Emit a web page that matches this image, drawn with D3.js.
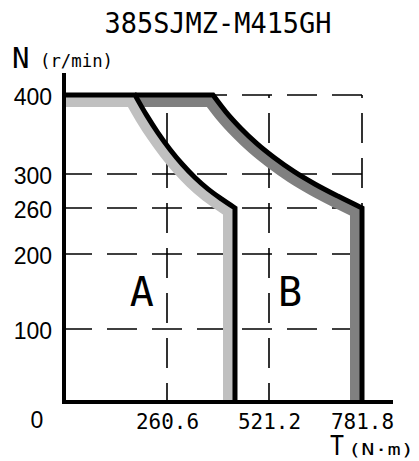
<!DOCTYPE html>
<html>
<head>
<meta charset="utf-8">
<script src="https://cdn.jsdelivr.net/npm/d3@7"></script>
<style>
  body { margin: 0; background: #fff; }
  svg { display: block; }
</style>
</head>
<body>
<div id="chart"></div>
<script>
// speed / torque curve data
var speedTicks = [100, 200, 260, 300, 400];
var torqueTicks = [260.6, 521.2, 781.8];
var curveA = [[179.6, 400], [208.5, 374.8], [238.1, 351.8], [268.8, 330.8], [300.2, 312], [332.6, 295.6], [365.6, 282.2], [399.6, 270.7], [434.3, 260]];
var curveB = [[378.1, 400], [411.5, 378.4], [448.9, 358], [490.3, 338.5], [537.3, 320.3], [591.8, 303], [650.7, 288], [714, 274], [781.8, 260]];
var zoneLabels = [{ name: "A", t: 197, n: 150 }, { name: "B", t: 580, n: 150 }];

var W = 419, H = 461;
var mono = "'DejaVu Sans Mono', 'Noto Sans CJK SC', monospace";
var sans = "'Liberation Sans', Arial, sans-serif";

var svg = d3.select("#chart").append("svg")
  .attr("width", W)
  .attr("height", H);

// the drawing is hand made so the scales are not quite even
var x = d3.scaleLinear().domain([0, 260.6, 521.2, 781.8]).range([64, 167, 269, 362]);
var y = d3.scaleLinear().domain([0, 100, 200, 260, 300, 400]).range([402, 329, 254, 208, 174, 95]);

// title
svg.append("text")
  .attr("x", 218)
  .attr("y", 33)
  .attr("text-anchor", "middle")
  .attr("font-family", mono)
  .attr("font-size", 28)
  .attr("textLength", 227)
  .attr("lengthAdjust", "spacingAndGlyphs")
  .text("385SJMZ-M415GH");

// grid
var grid = svg.append("g")
  .attr("stroke", "#000")
  .attr("stroke-width", 1.6)
  .attr("fill", "none");

grid.selectAll(".hgrid")
  .data(speedTicks)
  .enter().append("line")
  .attr("class", "hgrid")
  .attr("x1", x(0) - 2)
  .attr("x2", x(781.8))
  .attr("y1", function(d) { return y(d); })
  .attr("y2", function(d) { return y(d); })
  .attr("stroke-dasharray", "30,15");

grid.selectAll(".vgrid")
  .data(torqueTicks)
  .enter().append("line")
  .attr("class", "vgrid")
  .attr("x1", function(d) { return x(d); })
  .attr("x2", function(d) { return x(d); })
  .attr("y1", y(400))
  .attr("y2", y(0))
  .attr("stroke-dasharray", "30,15")
  .attr("stroke-dashoffset", 27);

// outline: flat top at 400, curve down to 260, then straight down
var smooth = d3.line()
  .x(function(d) { return x(d[0]); })
  .y(function(d) { return y(d[1]); })
  .curve(d3.curveMonotoneX);

function outline(t0, pts) {
  var last = pts[pts.length - 1];
  return "M" + x(t0) + "," + y(pts[0][1]) +
    "L" + smooth(pts).slice(1) +
    "L" + x(last[0]) + "," + y(0);
}

function area(pts) {
  return outline(0, pts) + "L" + x(0) + "," + y(0) + "Z";
}

var defs = svg.append("defs");
defs.append("clipPath").attr("id", "clipA")
  .append("path").attr("d", area(curveA));
defs.append("clipPath").attr("id", "clipB")
  .append("path").attr("d", area(curveB));

// grey bands: a wide stroke kept only on the inner side of each outline
svg.append("path")
  .attr("d", outline(curveA[0][0], curveB))
  .attr("clip-path", "url(#clipB)")
  .attr("fill", "none")
  .attr("stroke", "#808080")
  .attr("stroke-width", 24);

svg.append("path")
  .attr("d", outline(0, curveA))
  .attr("clip-path", "url(#clipA)")
  .attr("fill", "none")
  .attr("stroke", "#c0c0c0")
  .attr("stroke-width", 24);

var lines = svg.append("g")
  .attr("fill", "none")
  .attr("stroke", "#000")
  .attr("stroke-width", 5)
  .attr("stroke-linejoin", "miter");

lines.append("path").attr("d", outline(curveA[0][0], curveB));
lines.append("path").attr("d", outline(0, curveA));

// axes
svg.append("line")
  .attr("x1", x(0)).attr("x2", x(0))
  .attr("y1", 73).attr("y2", y(0) + 2)
  .attr("stroke", "#000").attr("stroke-width", 4);

svg.append("line")
  .attr("x1", x(0) - 2).attr("x2", x(781.8) + 31)
  .attr("y1", y(0)).attr("y2", y(0))
  .attr("stroke", "#000").attr("stroke-width", 4);

var yAxis = svg.append("g")
  .attr("transform", "translate(" + x(0) + ",2)")
  .call(d3.axisLeft(y).tickValues(speedTicks).tickSize(0).tickPadding(12));
yAxis.select(".domain").remove();
yAxis.selectAll("text")
  .attr("font-family", sans)
  .attr("font-size", 23)
  .attr("fill", "#000");

var xAxis = svg.append("g")
  .attr("transform", "translate(0," + y(0) + ")")
  .call(d3.axisBottom(x).tickValues(torqueTicks).tickSize(0).tickPadding(12)
    .tickFormat(function(d) { return d.toFixed(1); }));
xAxis.select(".domain").remove();
xAxis.selectAll("text")
  .attr("font-family", mono)
  .attr("font-size", 21)
  .attr("textLength", 63)
  .attr("lengthAdjust", "spacingAndGlyphs")
  .attr("fill", "#000");

svg.append("text")
  .attr("x", 37)
  .attr("y", y(0) + 26)
  .attr("text-anchor", "middle")
  .attr("font-family", sans)
  .attr("font-size", 23)
  .text("0");

// axis titles
svg.append("text")
  .attr("x", 12).attr("y", 68)
  .attr("font-family", mono).attr("font-size", 29)
  .text("N");
svg.append("text")
  .attr("x", 40).attr("y", 67)
  .attr("font-family", mono).attr("font-size", 17)
  .attr("textLength", 73).attr("lengthAdjust", "spacingAndGlyphs")
  .text("(r/min)");

svg.append("text")
  .attr("x", 330).attr("y", 455)
  .attr("font-family", mono).attr("font-size", 27)
  .attr("textLength", 14).attr("lengthAdjust", "spacingAndGlyphs")
  .text("T");
svg.append("text")
  .attr("x", 348).attr("y", 455)
  .attr("font-family", mono).attr("font-size", 16)
  .attr("textLength", 66).attr("lengthAdjust", "spacingAndGlyphs")
  .text("(N·m)");

// zone letters
svg.selectAll(".zone")
  .data(zoneLabels)
  .enter().append("text")
  .attr("class", "zone")
  .attr("x", function(d) { return x(d.t); })
  .attr("y", function(d) { return y(d.n) + 14; })
  .attr("text-anchor", "middle")
  .attr("font-family", mono)
  .attr("font-size", 40)
  .text(function(d) { return d.name; });
</script>
</body>
</html>
